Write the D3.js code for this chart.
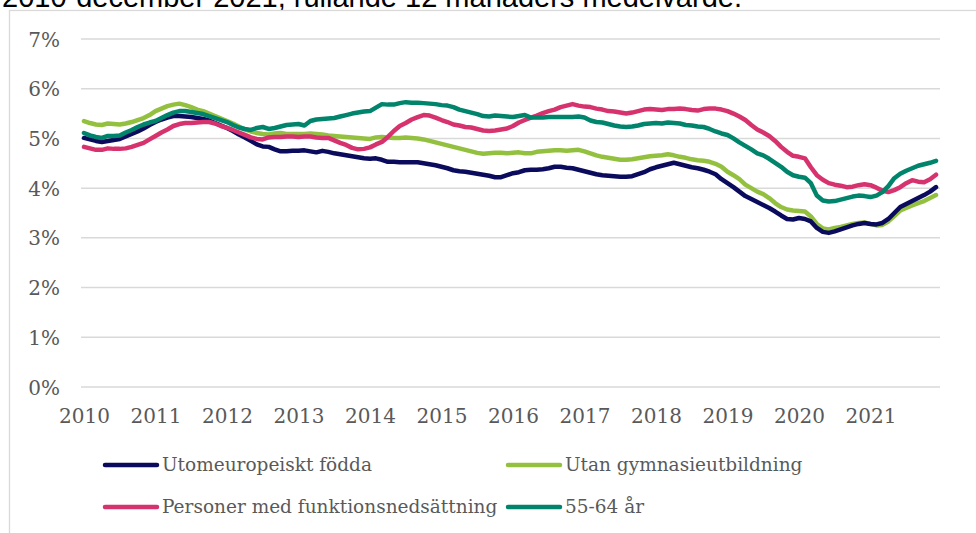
<!DOCTYPE html>
<html><head><meta charset="utf-8">
<script src="https://cdn.jsdelivr.net/npm/d3@7"></script>
<style>body{margin:0;background:#fff;overflow:hidden}svg{display:block}</style>
</head><body>
<script>
const years = ["2010","2011","2012","2013","2014","2015","2016","2017","2018","2019","2020","2021"];
const yTicks = [0,1,2,3,4,5,6,7];
const seriesNames = ["Utomeuropeiskt födda","Utan gymnasieutbildning","Personer med funktionsnedsättning","55-64 år"];
const utomeuropeiskt = [
5.01,4.98,4.95,4.93,4.95,4.97,4.99,5.04,5.09,5.14,5.20,5.27,
5.33,5.38,5.42,5.45,5.45,5.44,5.43,5.41,5.39,5.36,5.31,5.26,
5.21,5.15,5.08,5.02,4.95,4.88,4.84,4.83,4.78,4.74,4.74,4.75,
4.75,4.76,4.74,4.72,4.75,4.73,4.70,4.68,4.66,4.64,4.62,4.60,
4.59,4.60,4.57,4.53,4.53,4.52,4.52,4.52,4.52,4.50,4.48,4.46,
4.43,4.40,4.36,4.34,4.33,4.31,4.29,4.27,4.25,4.22,4.22,4.26,
4.30,4.32,4.36,4.37,4.37,4.38,4.40,4.43,4.43,4.41,4.40,4.37,
4.34,4.31,4.28,4.26,4.25,4.24,4.23,4.23,4.24,4.28,4.32,4.38,
4.42,4.45,4.48,4.51,4.48,4.45,4.42,4.40,4.37,4.33,4.28,4.18,
4.10,4.02,3.93,3.84,3.78,3.72,3.66,3.60,3.53,3.45,3.38,3.37,
3.40,3.38,3.33,3.20,3.12,3.10,3.13,3.17,3.21,3.25,3.28,3.30,
3.28,3.27,3.30,3.38,3.50,3.62,3.68,3.74,3.80,3.86,3.93,4.02];
const utanGymnasie = [
5.35,5.31,5.28,5.27,5.30,5.29,5.28,5.30,5.33,5.37,5.41,5.47,
5.55,5.60,5.65,5.68,5.70,5.67,5.63,5.58,5.55,5.50,5.45,5.40,
5.35,5.30,5.24,5.18,5.14,5.11,5.09,5.08,5.10,5.11,5.09,5.09,
5.09,5.09,5.10,5.09,5.08,5.06,5.05,5.04,5.03,5.02,5.01,5.00,
4.99,5.02,5.03,5.02,5.01,5.01,5.02,5.01,5.00,4.98,4.95,4.92,
4.89,4.86,4.83,4.80,4.77,4.74,4.71,4.69,4.70,4.71,4.71,4.70,
4.71,4.72,4.70,4.70,4.73,4.74,4.75,4.76,4.76,4.75,4.76,4.77,
4.74,4.70,4.66,4.63,4.61,4.59,4.57,4.57,4.58,4.60,4.62,4.64,
4.65,4.66,4.68,4.66,4.63,4.61,4.58,4.56,4.55,4.53,4.49,4.43,
4.33,4.26,4.18,4.07,4.00,3.93,3.88,3.80,3.70,3.62,3.57,3.55,
3.54,3.53,3.43,3.28,3.19,3.17,3.20,3.22,3.25,3.28,3.30,3.31,
3.28,3.25,3.26,3.33,3.44,3.55,3.60,3.65,3.70,3.74,3.80,3.86];
const funktionsned = [
4.83,4.80,4.77,4.77,4.80,4.79,4.79,4.80,4.83,4.87,4.91,4.98,
5.05,5.12,5.18,5.25,5.29,5.31,5.31,5.32,5.33,5.33,5.30,5.25,
5.21,5.17,5.12,5.07,5.02,4.99,4.98,5.02,5.03,5.03,5.04,5.04,
5.03,5.04,5.04,5.02,5.01,5.01,4.96,4.91,4.87,4.81,4.78,4.79,
4.82,4.88,4.93,5.03,5.15,5.25,5.31,5.38,5.43,5.47,5.46,5.42,
5.37,5.33,5.28,5.26,5.23,5.22,5.19,5.16,5.15,5.16,5.18,5.20,
5.25,5.32,5.37,5.42,5.46,5.51,5.55,5.58,5.63,5.66,5.69,5.66,
5.64,5.63,5.60,5.58,5.55,5.54,5.52,5.50,5.52,5.55,5.58,5.59,
5.58,5.57,5.59,5.59,5.60,5.59,5.57,5.56,5.59,5.60,5.60,5.58,
5.55,5.50,5.44,5.37,5.27,5.18,5.12,5.05,4.95,4.83,4.73,4.65,
4.63,4.60,4.42,4.26,4.17,4.10,4.07,4.05,4.02,4.03,4.06,4.08,
4.06,4.01,3.95,3.92,3.96,4.02,4.10,4.16,4.13,4.12,4.18,4.27];
const aldre5564 = [
5.11,5.06,5.03,5.01,5.05,5.05,5.06,5.12,5.17,5.23,5.28,5.32,
5.35,5.41,5.47,5.52,5.55,5.55,5.53,5.51,5.49,5.45,5.41,5.37,
5.33,5.27,5.22,5.19,5.17,5.21,5.23,5.19,5.21,5.24,5.27,5.28,
5.29,5.26,5.35,5.38,5.39,5.40,5.41,5.44,5.47,5.50,5.52,5.54,
5.55,5.62,5.69,5.68,5.68,5.71,5.73,5.72,5.72,5.71,5.70,5.69,
5.67,5.66,5.63,5.58,5.55,5.52,5.49,5.45,5.44,5.46,5.45,5.44,
5.43,5.45,5.47,5.42,5.42,5.42,5.43,5.43,5.43,5.43,5.43,5.44,
5.42,5.36,5.33,5.32,5.29,5.26,5.24,5.23,5.24,5.26,5.29,5.30,
5.31,5.30,5.32,5.31,5.30,5.27,5.26,5.24,5.23,5.19,5.14,5.10,
5.07,5.00,4.92,4.85,4.78,4.70,4.66,4.59,4.51,4.43,4.33,4.26,
4.23,4.21,4.10,3.85,3.75,3.73,3.74,3.77,3.80,3.83,3.85,3.84,
3.82,3.85,3.92,4.04,4.20,4.29,4.35,4.40,4.45,4.48,4.51,4.55];
const colors = ["#0b0b5e","#93c13f","#d6336e","#00846c"];

const W = 976, H = 533;
const svg = d3.select("body").append("svg").attr("width", W).attr("height", H);

svg.append("text").attr("x", 2).attr("y", 7)
  .attr("font-family", "'Liberation Sans', Arial, sans-serif").attr("font-size", 29).attr("fill", "#000")
  .text("2010-december 2021, rullande 12 månaders medelvärde.");

svg.append("rect").attr("x", 9.5).attr("y", 10.5).attr("width", 1000).attr("height", 600)
  .attr("fill", "#fff").attr("stroke", "#d9d9d9").attr("stroke-width", 1.3);

const x = d3.scaleLinear().domain([0, 143]).range([84, 936]);
const y = d3.scaleLinear().domain([0, 7]).range([387, 39]);

const font = "Georgia, 'DejaVu Serif', serif";

// grid
svg.append("g").selectAll("line").data(yTicks).join("line")
  .attr("x1", 81).attr("x2", 940)
  .attr("y1", d => y(d)).attr("y2", d => y(d))
  .attr("stroke", "#d9d9d9").attr("stroke-width", 1.5);

// y labels
const yAxis = d3.axisLeft(y).tickValues(yTicks).tickFormat(d => d + "%").tickSize(0).tickPadding(0);
const gy = svg.append("g").attr("transform", "translate(60,0)").call(yAxis);
gy.select(".domain").remove();
gy.selectAll("text").attr("font-family", font).attr("font-size", 20).attr("fill", "#595959").attr("dy", "0.35em");

// x labels
const xAxis = d3.axisBottom(x).tickValues(years.map((_, i) => i * 12)).tickFormat((d, i) => years[i]).tickSize(0).tickPadding(0);
const gx = svg.append("g").attr("transform", "translate(0,409)").call(xAxis);
gx.select(".domain").remove();
gx.selectAll("text").attr("font-family", font).attr("font-size", 20).attr("fill", "#595959").attr("dy", "0.71em");

const allSeries = [utomeuropeiskt, utanGymnasie, funktionsned, aldre5564];
const line = d3.line().x((d, i) => x(i)).y(d => y(d)).curve(d3.curveLinear);
const drawOrder = [1, 0, 2, 3];
drawOrder.forEach(k => {
  svg.append("path").datum(allSeries[k]).attr("d", line)
    .attr("fill", "none").attr("stroke", colors[k]).attr("stroke-width", 4.5)
    .attr("stroke-linejoin", "round").attr("stroke-linecap", "round");
});

// legend
const legendPos = [[103, 465], [506, 465], [103, 507], [506, 507]];
seriesNames.forEach((name, k) => {
  const [lx, ly] = legendPos[k];
  svg.append("line").attr("x1", lx + 2).attr("x2", lx + 54).attr("y1", ly).attr("y2", ly)
    .attr("stroke", colors[k]).attr("stroke-width", 4.5).attr("stroke-linecap", "round");
  svg.append("text").attr("x", lx + 59).attr("y", ly).attr("dy", "0.35em")
    .attr("font-family", font).attr("font-size", 18.5).attr("fill", "#595959").text(name);
});
</script>
</body></html>
